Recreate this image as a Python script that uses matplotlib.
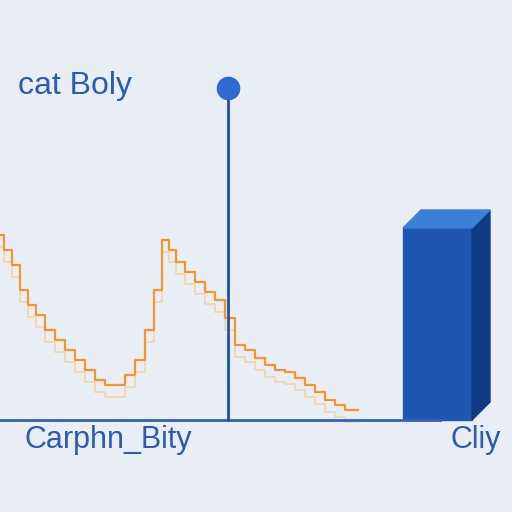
import matplotlib.pyplot as plt
from matplotlib.patches import Polygon

plt.rcParams['font.family'] = ['Liberation Sans', 'DejaVu Sans']

# approximate values (pixel-like units, y grows downward)
line_x = [0, 8, 16, 24, 32, 40, 50, 60, 70, 80, 90, 100, 110, 120, 130, 140, 150, 158, 165, 172,
          180, 190, 200, 210, 220, 230, 240, 250, 260, 270, 280, 290, 300, 310, 320, 330, 340, 350, 358]
line_y = [235, 250, 265, 290, 305, 315, 330, 340, 350, 360, 370, 380, 385, 385, 375, 360, 330, 290, 240, 250,
          262, 272, 282, 292, 300, 318, 345, 350, 358, 365, 370, 372, 378, 385, 392, 400, 405, 410, 410]
shadow_y = [v + 12 for v in line_y]

stem_x = 228
stem_top = 88
baseline_y = 420
box = {"left": 403, "right": 472, "depth": 18, "top": 228, "bottom": 420}

fig = plt.figure(figsize=(5.12, 5.12), dpi=100)
ax = fig.add_axes([0, 0, 1, 1])
fig.patch.set_facecolor("#e9edf4")
ax.set_facecolor("#e9edf4")
ax.set_xlim(0, 512)
ax.set_ylim(512, 0)
ax.axis("off")

ax.plot(line_x, shadow_y, drawstyle="steps-mid", color="#f6c98a", lw=1.2, alpha=0.7)
ax.plot(line_x, line_y, drawstyle="steps-mid", color="#f0982f", lw=1.6)

ax.plot([0, 440], [baseline_y, baseline_y], color="#2f64b4", lw=2)
ax.plot([stem_x, stem_x], [stem_top, baseline_y], color="#1f4fa0", lw=2)
ax.plot([stem_x], [stem_top], "o", color="#2e6ad0", ms=16)

l, r, d, t, b = box["left"], box["right"], box["depth"], box["top"], box["bottom"]
ax.add_patch(Polygon([(l, t), (r, t), (r, b), (l, b)], color="#1e56b0"))
ax.add_patch(Polygon([(r, t), (r + d, t - d), (r + d, b - d), (r, b)], color="#0e3a84"))
ax.add_patch(Polygon([(l, t), (l + d, t - d), (r + d, t - d), (r, t)], color="#3a7fd8"))

ax.text(18, 86, "cat Boly", color="#2a5db0", fontsize=23, va="center", ha="left")
ax.text(25, 440, "Carphn_Bity", color="#2a5db0", fontsize=22, va="center", ha="left")
ax.text(450, 440, "Cliy", color="#2a5db0", fontsize=22, va="center", ha="left")

fig.savefig("out.png", dpi=100, facecolor=fig.get_facecolor())
